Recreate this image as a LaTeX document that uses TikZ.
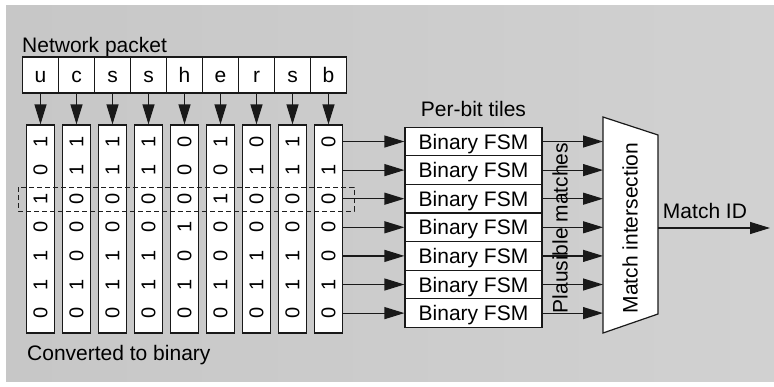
\documentclass[tikz,border=0pt]{standalone}
\usepackage{fontspec}
\setmainfont{Liberation Sans}
\usetikzlibrary{arrows.meta}
\begin{document}
\begin{tikzpicture}[x=1pt,y=-1pt,
  every node/.style={font=\fontsize{21}{24}\selectfont, text=black},
  ln/.style={line width=1.2pt, draw=black!90},
  arr/.style={ln, -{Triangle[length=20pt,width=12pt]}},
  pbox/.style={ln, fill=white, minimum width=36pt, minimum height=36pt, inner sep=0pt, text height=15pt, text depth=0pt},
  colbox/.style={ln, fill=white, minimum width=28pt, minimum height=208pt, inner sep=0pt},
  bit/.style={rotate=90, font=\fontsize{20}{22}\selectfont, inner sep=0pt},
  fsm/.style={ln, fill=white, minimum width=137pt, minimum height=28.6pt, inner sep=0pt, text height=15pt, text depth=0pt},
  lbl/.style={inner sep=0pt}
]
\useasboundingbox (0,0) rectangle (774,386);
\fill[white] (0,0) rectangle (774,386);
\shade[left color=black!22, middle color=black!3, right color=black!18] (6,5) rectangle (774,381);

% network packet and binary columns
\node[lbl, anchor=base west] (np) at (22,52) {Network packet};
\foreach \c/\bits [count=\i from 0] in {u/{1,0,1,0,1,1,0}, c/{1,1,0,0,0,1,0}, s/{1,1,0,0,1,1,0}, s/{1,1,0,0,1,1,0}, h/{0,0,0,1,0,1,0}, e/{1,0,1,0,0,1,0}, r/{0,1,0,0,1,1,0}, s/{1,1,0,0,1,1,0}, b/{0,1,0,0,0,1,0}} {
  \node[pbox] (p\i) at (40.5+36*\i, 75) {\c};
  \node[colbox] (c\i) at (40.5+36*\i, 229) {};
  \draw[arr] (p\i) -- (c\i);
  \foreach \b [count=\j from 0] in \bits {
    \node[bit] (b\i-\j) at (40.5+36*\i, 141.5+28.6*\j) {\b};
  }
}
\draw[line width=1pt, draw=black!88, dash pattern=on 5pt off 3pt] (18,187) rectangle (354,211);
\node[lbl, anchor=base west] (cb) at (27,360) {Converted to binary};

% per-bit tiles
\node[lbl, anchor=base] (pt) at (473.5,116) {Per-bit tiles};
\coordinate (t1) at (603,117);
\coordinate (t2) at (658,135);
\coordinate (t3) at (658,314);
\coordinate (t4) at (603,333);
\foreach \j in {0,...,6} {
  \node[fsm] (f\j) at (473.5, 141.5+28.6*\j) {Binary FSM};
  \draw[arr] (c8.east |- f\j) -- (f\j.west);
  \draw[arr] (f\j.east) -- (f\j.east -| t1);
}

% match intersection
\draw[ln, fill=white] (t1) -- (t2) -- (t3) -- (t4) -- cycle;
\node[lbl, rotate=90] (mi) at (630,228) {Match intersection};
\node[lbl, rotate=90] (pm) at (560,228) {Plausible matches};
\coordinate (mo) at (658,228);
\coordinate (me) at (770,228);
\draw[arr] (mo) -- (me);
\node[lbl, anchor=base] (mid) at (705,218) {Match ID};
\end{tikzpicture}
\end{document}
